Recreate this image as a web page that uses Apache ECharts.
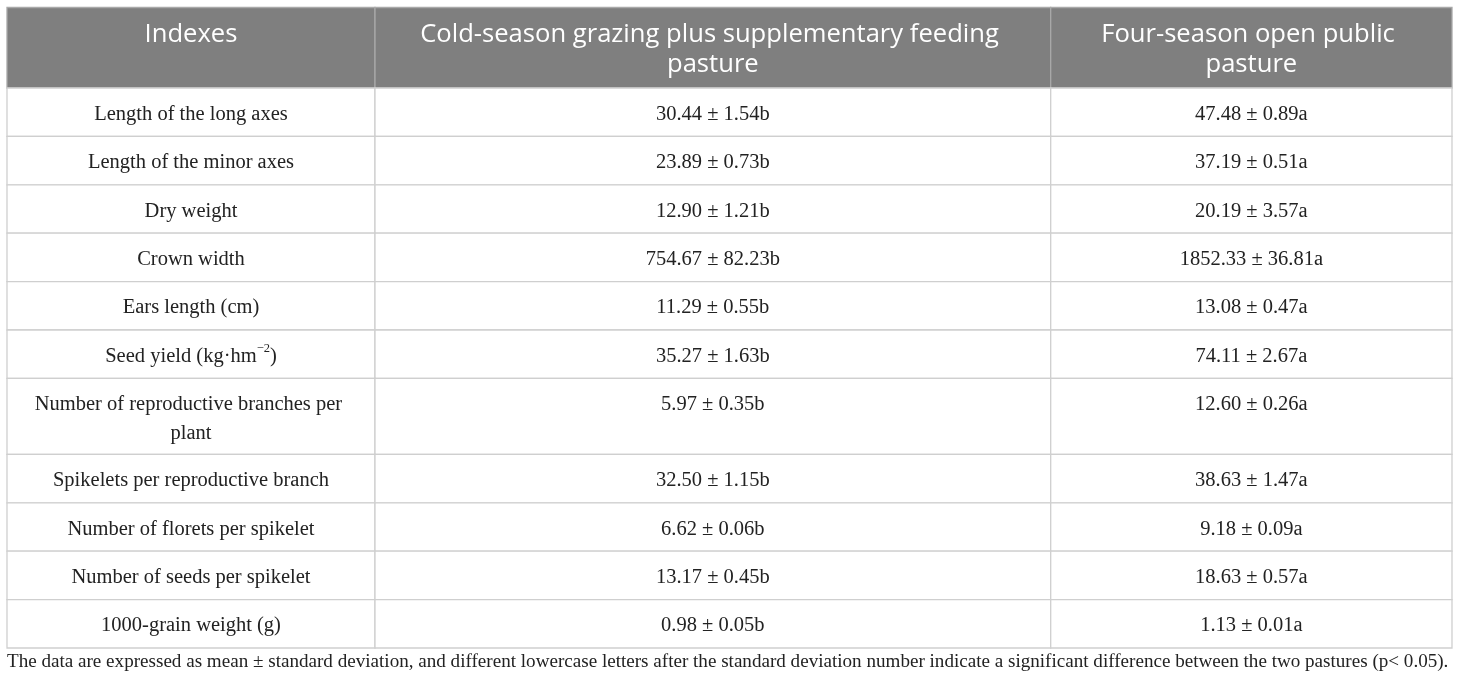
<!DOCTYPE html>
<html>
<head>
<meta charset="utf-8">
<script src="https://cdn.jsdelivr.net/npm/echarts@6/dist/echarts.min.js"></script>
<style>
html,body{margin:0;padding:0;background:#fff;}
#chart{width:1460px;height:685px;}
</style>
</head>
<body>
<div id="chart"></div>
<script>
// ---- table content ----
const headers = ['Indexes', 'Cold-season grazing plus supplementary feeding pasture', 'Four-season open public pasture'];
const indexes = [
  'Length of the long axes',
  'Length of the minor axes',
  'Dry weight',
  'Crown width',
  'Ears length (cm)',
  'Seed yield (kg·hm⁻²)',
  'Number of reproductive branches per plant',
  'Spikelets per reproductive branch',
  'Number of florets per spikelet',
  'Number of seeds per spikelet',
  '1000-grain weight (g)'
];
const coldSeason = [
  '30.44 ± 1.54b', '23.89 ± 0.73b', '12.90 ± 1.21b', '754.67 ± 82.23b', '11.29 ± 0.55b',
  '35.27 ± 1.63b', '5.97 ± 0.35b', '32.50 ± 1.15b', '6.62 ± 0.06b', '13.17 ± 0.45b', '0.98 ± 0.05b'
];
const fourSeason = [
  '47.48 ± 0.89a', '37.19 ± 0.51a', '20.19 ± 3.57a', '1852.33 ± 36.81a', '13.08 ± 0.47a',
  '74.11 ± 2.67a', '12.60 ± 0.26a', '38.63 ± 1.47a', '9.18 ± 0.09a', '18.63 ± 0.57a', '1.13 ± 0.01a'
];
const footnote = 'The data are expressed as mean ± standard deviation, and different lowercase letters after the standard deviation number indicate a significant difference between the two pastures (p< 0.05).';

// ---- layout (not data) ----
const colWidths = [368, 675.7, 401.3];
const bodyLines = [1,1,1,1,1,1,2,1,1,1,1];
const headerH = 80.5, rowH = 48.4, extraLineH = 27.6;
const rowHeights = [headerH].concat(bodyLines.map(n => rowH + (n - 1) * extraLineH));
const totalW = colWidths.reduce((a, b) => a + b, 0);
const totalH = rowHeights.reduce((a, b) => a + b, 0);

const rows = [headers].concat(indexes.map((t, i) => [t, coldSeason[i], fourSeason[i]]));
const cells = [];
let yAcc = 0;
rows.forEach((row, r) => {
  let xAcc = 0;
  row.forEach((txt, c) => {
    cells.push({ value: [xAcc, yAcc, xAcc + colWidths[c], yAcc + rowHeights[r], r, c], text: txt });
    xAcc += colWidths[c];
  });
  yAcc += rowHeights[r];
});

const serif = '"Liberation Serif", "DejaVu Serif", serif';
const sans = '"Open Sans", "Noto Sans", sans-serif';
const bodySize = 20.5, headSize = 25.6;

function renderItem(params, api) {
  const x0 = api.value(0), y0 = api.value(1), x1 = api.value(2), y1 = api.value(3);
  const r = api.value(4);
  const p0 = api.coord([x0, y0]);
  const p1 = api.coord([x1, y1]);
  const w = p1[0] - p0[0], h = p1[1] - p0[1];
  const cell = cells[params.dataIndex];
  const isHeader = r === 0;
  const children = [{
    type: 'rect',
    shape: { x: p0[0], y: p0[1], width: w, height: h },
    style: { fill: isHeader ? '#7f7f7f' : '#ffffff', stroke: isHeader ? '#a9a9a9' : '#cfcfcf', lineWidth: 1.3 }
  }];
  const txt = cell.text;
  let textStyle;
  if (txt.indexOf('⁻²') >= 0) {
    const parts = txt.split('⁻²');
    textStyle = {
      text: '{n|' + parts[0] + '}{s|−2}{n|' + parts[1] + '}',
      rich: {
        n: { fontFamily: serif, fontSize: bodySize, fill: '#222', lineHeight: 29 },
        s: { fontFamily: serif, fontSize: 12.5, fill: '#222', verticalAlign: 'top', padding: [0, 0, 9, 0], lineHeight: 29 }
      }
    };
  } else {
    textStyle = {
      text: txt,
      fontFamily: isHeader ? sans : serif,
      fontSize: isHeader ? headSize : bodySize,
      fill: isHeader ? '#ffffff' : '#222222',
      lineHeight: isHeader ? 30 : 29,
      width: w - 30,
      overflow: 'break'
    };
  }
  textStyle.align = 'center';
  textStyle.verticalAlign = 'top';
  textStyle.x = p0[0] + w / 2;
  textStyle.y = p0[1] + (isHeader ? 27 - 15 : 26.5 - 14.5);
  children.push({ type: 'text', style: textStyle });
  return { type: 'group', children: children };
}

const chart = echarts.init(document.getElementById('chart'), null, { renderer: 'canvas' });
chart.setOption({
  animation: false,
  title: {
    text: footnote,
    left: 7,
    top: 652,
    textStyle: { fontFamily: serif, fontSize: 19.1, fontWeight: 'normal', color: '#222' },
    padding: 0
  },
  grid: { left: 7, right: 8, top: 7.5, bottom: 685 - 7.5 - totalH },
  xAxis: { type: 'value', min: 0, max: totalW, show: false },
  yAxis: { type: 'value', min: 0, max: totalH, inverse: true, show: false },
  series: [{
    type: 'custom',
    coordinateSystem: 'cartesian2d',
    renderItem: renderItem,
    encode: { x: [0, 2], y: [1, 3] },
    data: cells.map(c => c.value)
  }]
});
</script>
</body>
</html>
